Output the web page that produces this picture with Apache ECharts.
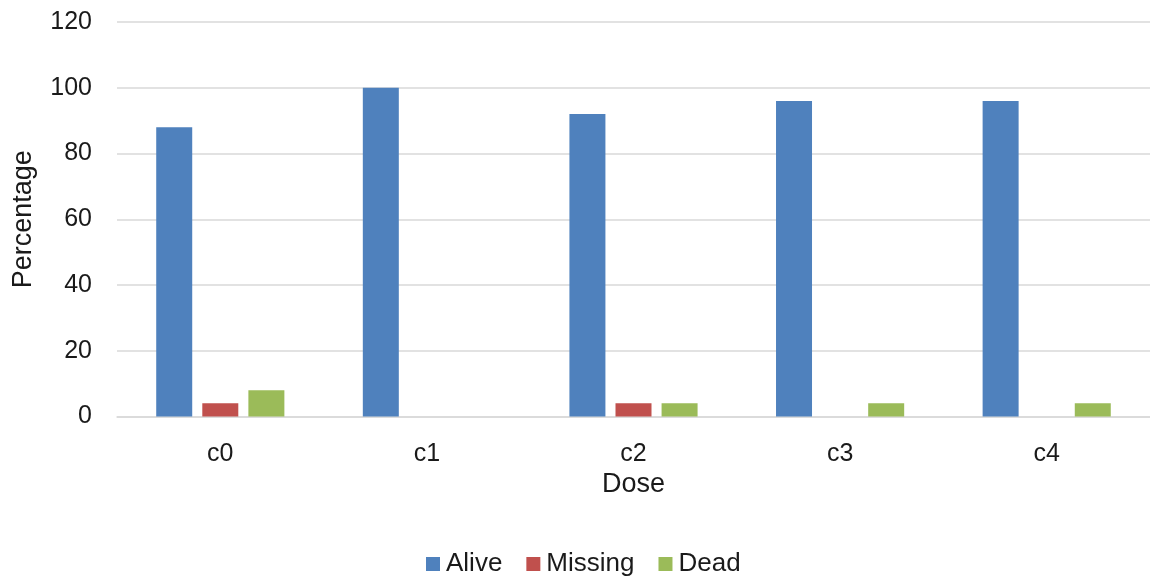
<!DOCTYPE html>
<html>
<head>
<meta charset="utf-8">
<script src="https://cdn.jsdelivr.net/npm/echarts@6/dist/echarts.min.js"></script>
<style>
html,body{margin:0;padding:0;background:#fff;}
#chart{width:1150px;height:577px;}
</style>
</head>
<body>
<div id="chart"></div>
<script>
var categories = ['c0', 'c1', 'c2', 'c3', 'c4'];
var seriesNames = ['Alive', 'Missing', 'Dead'];
var alive = [88, 100, 92, 96, 96];
var missing = [4, 0, 4, 0, 0];
var dead = [8, 0, 4, 4, 4];
var colors = ['#4f81bd', '#c0504d', '#9bbb59'];

var chart = echarts.init(document.getElementById('chart'), null, {renderer: 'canvas'});
var font = 'Liberation Sans, Arial, sans-serif';
var textColor = '#1a1a1a';
function mk(name, data, color) {
  return {
    name: name, type: 'bar', data: data, barWidth: 36, barGap: '28%',
    itemStyle: {color: color}
  };
}
chart.setOption({
  animation: false,
  textStyle: {fontFamily: font},
  grid: {left: 117, right: 0, top: 22, bottom: 160.5, containLabel: false},
  legend: {
    data: seriesNames, top: 546, left: 421,
    itemWidth: 14, itemHeight: 14, itemGap: 24,
    icon: 'rect',
    textStyle: {fontSize: 26, color: textColor, fontFamily: font, padding: [0, 0, 0, 1]}
  },
  xAxis: {
    type: 'category', data: categories,
    name: 'Dose', nameLocation: 'middle', nameGap: 54,
    nameTextStyle: {fontSize: 27, color: textColor, fontFamily: font},
    axisLine: {lineStyle: {color: '#d9d9d9', width: 1.5}},
    axisTick: {show: false},
    axisLabel: {fontSize: 25, color: textColor, margin: 25, fontFamily: font}
  },
  yAxis: {
    type: 'value', min: 0, max: 120, interval: 20,
    name: 'Percentage', nameLocation: 'middle', nameGap: 80,
    nameTextStyle: {fontSize: 27, color: textColor, fontFamily: font},
    axisLine: {show: false},
    axisTick: {show: false},
    axisLabel: {fontSize: 25, color: textColor, margin: 25, fontFamily: font},
    splitLine: {lineStyle: {color: '#d9d9d9', width: 1.5}}
  },
  series: [mk(seriesNames[0], alive, colors[0]), mk(seriesNames[1], missing, colors[1]), mk(seriesNames[2], dead, colors[2])]
});
</script>
</body>
</html>
